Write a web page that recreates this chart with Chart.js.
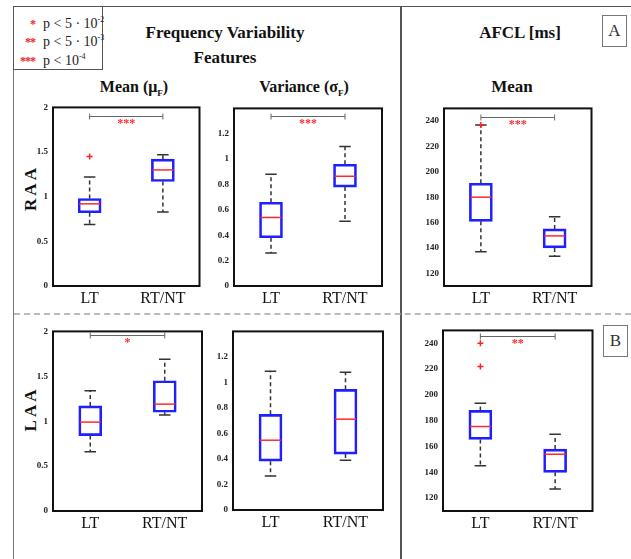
<!DOCTYPE html>
<html>
<head>
<meta charset="utf-8">
<script src="https://cdn.jsdelivr.net/npm/chart.js@4.4.0/dist/chart.umd.min.js"></script>
<style>
  body { margin: 0; background: #fff; font-family: "Liberation Serif", "Times New Roman", serif; }
  #fig { position: relative; width: 631px; height: 559px; overflow: hidden; background: #fff; }
  .line { position: absolute; }
  .title { position: absolute; transform: translate(-50%, -50%); font-weight: bold; white-space: nowrap; color: #111; }
  .panel { position: absolute; }
  .side { position: absolute; transform: translate(-50%, -50%) rotate(-90deg); font-weight: bold; font-size: 17px; letter-spacing: 3px; color: #111; white-space: nowrap; }
  .tag { position: absolute; border: 1px solid #777; font-size: 17px; color: #333; text-align: center; line-height: 30px; }
  #legend { position: absolute; left: 13px; top: 6px; width: 88px; height: 62px; border: 1px solid #555; font-family: "Liberation Serif", serif; font-size: 14px; color: #222; }
  #legend div { position: absolute; left: 0; white-space: nowrap; }
  #legend .st { display: inline-block; width: 21px; text-align: right; color: #e22; font-weight: bold; font-size: 12px; letter-spacing: -1px; margin-right: 8px; }
  #legend sup { font-size: 8px; }
</style>
</head>
<body>
<div id="fig">
  <!-- 바깥 틀, 구분선 -->
  <div class="line" style="left:13px;top:6px;width:618px;height:1px;background:#555"></div>
  <div class="line" style="left:13px;top:6px;width:1px;height:553px;background:#777"></div>
  <div class="line" style="left:400px;top:6px;width:2px;height:553px;background:#555"></div>
  <div class="line" style="left:14px;top:313px;width:617px;height:0;border-top:2px dashed #bbb"></div>

  <div id="legend">
    <div style="top:8px"><span class="st">*</span>p &lt; 5 · 10<sup>-2</sup></div>
    <div style="top:26px"><span class="st">**</span>p &lt; 5 · 10<sup>-3</sup></div>
    <div style="top:45px"><span class="st">***</span>p &lt; 10<sup>-4</sup></div>
  </div>

  <div class="title" style="left:225px;top:33px;font-size:17px">Frequency Variability</div>
  <div class="title" style="left:225px;top:58px;font-size:17px">Features</div>
  <div class="title" style="left:134px;top:88px;font-size:16px">Mean (μ<sub style="font-size:9px">F</sub>)</div>
  <div class="title" style="left:304px;top:88px;font-size:16px">Variance (σ<sub style="font-size:9px">F</sub>)</div>
  <div class="title" style="left:520px;top:33px;font-size:17px">AFCL [ms]</div>
  <div class="title" style="left:512px;top:87px;font-size:17px">Mean</div>

  <div class="side" style="left:31px;top:188px">RAA</div>
  <div class="side" style="left:31px;top:409px">LAA</div>

  <div class="tag" style="left:602px;top:15px;width:23px;height:30px">A</div>
  <div class="tag" style="left:603px;top:325px;width:23px;height:30px">B</div>

  <div class="panel" id="p1"><canvas></canvas></div>
  <div class="panel" id="p2"><canvas></canvas></div>
  <div class="panel" id="p3"><canvas></canvas></div>
  <div class="panel" id="p4"><canvas></canvas></div>
  <div class="panel" id="p5"><canvas></canvas></div>
  <div class="panel" id="p6"><canvas></canvas></div>
</div>

<script>
// 그룹
const groups = ['LT', 'RT/NT'];

// 박스 통계: [하단 수염, Q1, 중앙값, Q3, 상단 수염]
const raaMeanLT = [0.69, 0.82, 0.92, 0.98, 1.22];
const raaMeanRT = [0.83, 1.17, 1.30, 1.42, 1.47];
const raaVarLT  = [0.26, 0.38, 0.54, 0.66, 0.88];
const raaVarRT  = [0.51, 0.78, 0.865, 0.96, 1.10];
const raaAfclLT = [137, 161, 180, 191, 237];
const raaAfclRT = [133.5, 140, 149.5, 155, 164.5];

const laaMeanLT = [0.66, 0.84, 0.99, 1.17, 1.34];
const laaMeanRT = [1.07, 1.10, 1.19, 1.45, 1.69];
const laaVarLT  = [0.266, 0.383, 0.547, 0.75, 1.087];
const laaVarRT  = [0.39, 0.438, 0.712, 0.946, 1.08];
const laaAfclLT = [145, 165.5, 175.5, 188, 193.5];
const laaAfclRT = [127, 140, 154, 158, 169.5];

// 이상치 (LT 그룹)
const raaMeanOutliers = [1.45];
const raaAfclOutliers = [237];
const laaAfclOutliers = [240, 222];

// 유의성 표시
const raaMeanSig = '***';
const raaVarSig  = '***';
const raaAfclSig = '***';
const laaMeanSig = '*';
const laaAfclSig = '**';

// 눈금
const meanTicks = [0, 0.5, 1, 1.5, 2];
const varTicks  = [0, 0.2, 0.4, 0.6, 0.8, 1, 1.2];
const afclTicks = [120, 140, 160, 180, 200, 220, 240];

const Y_AXIS_W = 30, X_AXIS_H = 30, PAD_TOP = 10, PAD_RIGHT = 4;
const SERIF = '"Liberation Serif", "Times New Roman", serif';

// 수염, 중앙값, 테두리, 유의성 막대 그리기
const boxPlotPlugin = {
    id: 'boxPlot',
    beforeDatasetsDraw(chart, args, opts) {
        const ctx = chart.ctx;
        const y = chart.scales.y;
        const bars = chart.getDatasetMeta(0).data;
        ctx.save();
        opts.stats.forEach((s, i) => {
            const cx = bars[i].x;
            const cap = bars[i].width * 0.25;
            ctx.strokeStyle = '#333';
            ctx.lineWidth = 1.5;
            ctx.setLineDash([4, 3]);
            ctx.beginPath();
            ctx.moveTo(cx, y.getPixelForValue(s[3]));
            ctx.lineTo(cx, y.getPixelForValue(s[4]));
            ctx.moveTo(cx, y.getPixelForValue(s[1]));
            ctx.lineTo(cx, y.getPixelForValue(s[0]));
            ctx.stroke();
            ctx.setLineDash([]);
            ctx.beginPath();
            ctx.moveTo(cx - cap, y.getPixelForValue(s[4]));
            ctx.lineTo(cx + cap, y.getPixelForValue(s[4]));
            ctx.moveTo(cx - cap, y.getPixelForValue(s[0]));
            ctx.lineTo(cx + cap, y.getPixelForValue(s[0]));
            ctx.stroke();
        });
        ctx.restore();
    },
    afterDatasetsDraw(chart, args, opts) {
        const ctx = chart.ctx;
        const y = chart.scales.y;
        const bars = chart.getDatasetMeta(0).data;
        ctx.save();
        ctx.strokeStyle = '#ff2a2a';
        ctx.lineWidth = 1.5;
        opts.stats.forEach((s, i) => {
            const half = bars[i].width / 2;
            const py = y.getPixelForValue(s[2]);
            ctx.beginPath();
            ctx.moveTo(bars[i].x - half + 1, py);
            ctx.lineTo(bars[i].x + half - 1, py);
            ctx.stroke();
        });
        ctx.restore();
    },
    afterDraw(chart, args, opts) {
        const ctx = chart.ctx;
        const area = chart.chartArea;
        ctx.save();
        ctx.strokeStyle = '#111';
        ctx.lineWidth = 2;
        ctx.strokeRect(area.left, area.top, area.right - area.left, area.bottom - area.top);

        if (opts.sig) {
            const bars = chart.getDatasetMeta(0).data;
            const py = Math.round(chart.scales.y.getPixelForValue(opts.sigY)) + 0.5;
            const x0 = bars[0].x, x1 = bars[1].x;
            ctx.strokeStyle = '#666';
            ctx.lineWidth = 1;
            ctx.beginPath();
            ctx.moveTo(x0, py); ctx.lineTo(x1, py);
            ctx.moveTo(x0, py - 3); ctx.lineTo(x0, py + 3);
            ctx.moveTo(x1, py - 3); ctx.lineTo(x1, py + 3);
            ctx.stroke();
            ctx.fillStyle = '#ff2a2a';
            ctx.font = 'bold 12px ' + SERIF;
            ctx.textAlign = 'center';
            ctx.textBaseline = 'top';
            ctx.fillText(opts.sig, (x0 + x1) / 2, py + 1);
        }
        ctx.restore();
    }
};

function drawPanel(id, frame, lt, rt, outliers, yMin, yMax, tickValues, sig, sigY) {
    const wrap = document.getElementById(id);
    wrap.style.left = (frame[0] - Y_AXIS_W) + 'px';
    wrap.style.top = (frame[1] - PAD_TOP) + 'px';
    wrap.style.width = (frame[2] - frame[0] + Y_AXIS_W + PAD_RIGHT) + 'px';
    wrap.style.height = (frame[3] - frame[1] + PAD_TOP + X_AXIS_H) + 'px';

    const ctx = wrap.querySelector('canvas').getContext('2d');
    new Chart(ctx, {
        type: 'bar',
        data: {
            labels: groups,
            datasets: [{
                data: [[lt[1], lt[3]], [rt[1], rt[3]]],
                backgroundColor: 'rgba(0,0,0,0)',
                borderColor: '#1f1fff',
                borderWidth: 2,
                borderSkipped: false,
                barThickness: 23
            }, {
                type: 'line',
                data: outliers.map(v => ({ x: 'LT', y: v })),
                showLine: false,
                pointStyle: 'cross',
                pointRadius: 3,
                pointBorderColor: '#ff2020',
                pointBorderWidth: 1.5
            }]
        },
        options: {
            animation: false,
            responsive: true,
            maintainAspectRatio: false,
            events: [],
            layout: { padding: { top: PAD_TOP, right: PAD_RIGHT, left: 0, bottom: 0 } },
            plugins: {
                legend: { display: false },
                tooltip: { enabled: false },
                boxPlot: { stats: [lt, rt], sig: sig, sigY: sigY }
            },
            scales: {
                x: {
                    grid: { display: false, drawTicks: false },
                    border: { display: false },
                    ticks: { color: '#111', padding: 3, font: { family: SERIF, size: 16 } },
                    afterFit: scale => { scale.height = X_AXIS_H; }
                },
                y: {
                    min: yMin,
                    max: yMax,
                    grid: { display: false, drawTicks: false },
                    border: { display: false },
                    ticks: {
                        color: '#222',
                        padding: 5,
                        font: { family: SERIF, size: 9, weight: 'bold' },
                        callback: v => String(v)
                    },
                    afterBuildTicks: scale => { scale.ticks = tickValues.map(v => ({ value: v })); },
                    afterFit: scale => { scale.width = Y_AXIS_W; }
                }
            }
        },
        plugins: [boxPlotPlugin]
    });
}

drawPanel('p1', [53, 107, 201, 286], raaMeanLT, raaMeanRT, raaMeanOutliers, 0, 2, meanTicks, raaMeanSig, 1.90);
drawPanel('p2', [234, 108, 382, 286], raaVarLT, raaVarRT, [], 0, 1.4, varTicks, raaVarSig, 1.337);
drawPanel('p3', [444, 108, 593, 286], raaAfclLT, raaAfclRT, raaAfclOutliers, 110, 250, afclTicks, raaAfclSig, 243);
drawPanel('p4', [53, 331, 202, 511], laaMeanLT, laaMeanRT, [], 0, 2, meanTicks, laaMeanSig, 1.955);
drawPanel('p5', [233, 331, 383, 510], laaVarLT, laaVarRT, [], 0, 1.4, varTicks, null, 0);
drawPanel('p6', [443, 330, 594, 511], laaAfclLT, laaAfclRT, laaAfclOutliers, 110, 250, afclTicks, laaAfclSig, 245.4);
</script>
</body>
</html>
